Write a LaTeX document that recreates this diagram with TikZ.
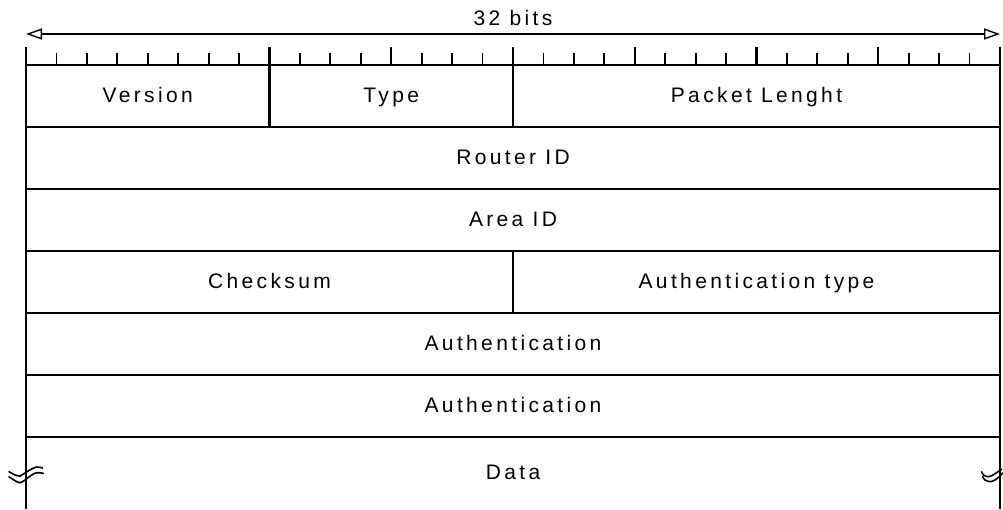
\documentclass[tikz,border=0pt]{standalone}
\usepackage{fontspec}
\usetikzlibrary{arrows.meta}
\newfontfamily\fieldfont[LetterSpace=16]{Liberation Sans}
\begin{document}
\begin{tikzpicture}[x=1pt,y=-1pt,
  rule/.style={line width=2.1pt},
  cell/.style={draw, rule, rectangle, inner sep=0pt, outer sep=0pt,
    minimum height=62pt, anchor=north west,
    text height=15pt, text depth=3pt,
    font=\fieldfont\fontsize{21}{25}\selectfont},
  lbl/.style={inner sep=0pt, text height=15pt, text depth=3pt,
    font=\fieldfont\fontsize{21}{25}\selectfont},
  minortick/.style={line width=1.8pt},
  majortick/.style={line width=2.1pt},
  dimarrow/.style={line width=1.4pt,
    {Triangle[open,length=16pt,width=11pt,fill=white]}-{Triangle[open,length=16pt,width=11pt,fill=white]}},
  breakmark/.style={line width=1.6pt, line cap=round}
]
\useasboundingbox (0,0) rectangle (1003,509);
\pgfmathsetmacro{\b}{974/32}

% width dimension
\coordinate (dimL) at (26,34);
\coordinate (dimR) at (1000,34);
\draw[dimarrow] (dimL) -- (dimR);
\node[lbl] (width) at (513,19) {32 bits};

% bit scale
\foreach \i in {1,...,31}{
  \ifnum\i=8\relax\else\ifnum\i=16\relax\else
  \pgfmathsetmacro{\xx}{26+\i*\b}
  \ifnum\i=12 \draw[majortick] (\xx,47) -- (\xx,65);
  \else\ifnum\i=20 \draw[majortick] (\xx,47) -- (\xx,65);
  \else\ifnum\i=24 \draw[majortick] (\xx,47) -- (\xx,65);
  \else\ifnum\i=28 \draw[majortick] (\xx,47) -- (\xx,65);
  \else \draw[minortick] (\xx,53) -- (\xx,65);
  \fi\fi\fi\fi
  \fi\fi
}
\foreach \i in {0,8,16,32}{
  \pgfmathsetmacro{\xx}{26+\i*\b}
  \draw[rule] (\xx,47) -- (\xx,65);
}

% header fields
\node[cell, minimum width=8*\b] (version) at (26,65) {Version};
\node[cell, minimum width=8*\b] (type) at (26+8*\b,65) {Type};
\node[cell, minimum width=16*\b] (length) at (513,65) {Packet Lenght};
\node[cell, minimum width=974pt] (router) at (26,127) {Router ID};
\node[cell, minimum width=974pt] (area) at (26,189) {Area ID};
\node[cell, minimum width=16*\b] (checksum) at (26,251) {Checksum};
\node[cell, minimum width=16*\b] (autype) at (513,251) {Authentication type};
\node[cell, minimum width=974pt] (auth1) at (26,313) {Authentication};
\node[cell, minimum width=974pt] (auth2) at (26,375) {Authentication};

% open-ended data field
\coordinate (dataTL) at (26,437);
\coordinate (dataTR) at (1000,437);
\coordinate (dataBL) at (26,509);
\coordinate (dataBR) at (1000,509);
\draw[rule] (dataBL) -- (dataTL) -- (dataTR) -- (dataBR);
\node[lbl] (data) at (513,473) {Data};

% break marks on the data field sides
\draw[breakmark] plot[smooth] coordinates {(9,471.7) (15,475) (20,476) (25,473) (31.7,469) (36.7,467) (42.7,468)};
\draw[breakmark] plot[smooth] coordinates {(9,476.7) (15,480.7) (20,482.7) (25,480) (31.7,475) (36.7,472.7) (43.3,473.3)};
\draw[breakmark] plot[smooth] coordinates {(981.7,471.7) (983.5,475) (988,476.7) (993,475) (998,471.7) (1001.7,469.3)};
\draw[breakmark] plot[smooth] coordinates {(982.7,476.7) (985,480) (990,481.7) (995,480) (1000,476) (1002.5,473)};
\end{tikzpicture}
\end{document}
